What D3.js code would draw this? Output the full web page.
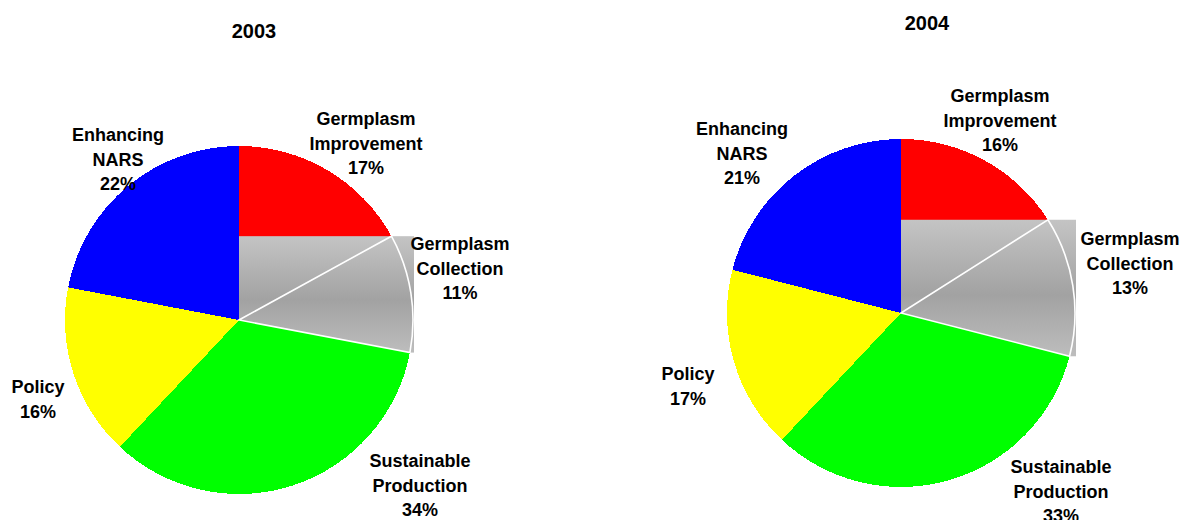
<!DOCTYPE html>
<html>
<head>
<meta charset="utf-8">
<script src="https://cdn.jsdelivr.net/npm/d3@7"></script>
<style>
  body { margin: 0; background: #fff; }
  text { font-family: Arial, "Liberation Sans", sans-serif; font-weight: bold; fill: #000; }
</style>
</head>
<body>
<div id="chart"></div>
<script>
// data
var years = ["2003", "2004"];
var categories = ["Germplasm Improvement", "Germplasm Collection", "Sustainable Production", "Policy", "Enhancing NARS"];
var labelLines = [["Germplasm", "Improvement"], ["Germplasm", "Collection"], ["Sustainable", "Production"], ["Policy"], ["Enhancing", "NARS"]];
var values2003 = [17, 11, 34, 16, 22];
var values2004 = [16, 13, 33, 17, 21];
var colors = ["#ff0000", "gradient", "#00ff00", "#ffff00", "#0000ff"];

// setup dimensions
var width = 1183,
    height = 520,
    radius = 174,
    lineGap = 24.5;

// layout for each pie (centre, title, label anchors)
var pies = [
  { year: years[0], values: values2003, cx: 239, cy: 320, title: [254, 38],
    labels: [[366, 125], [460, 250], [420, 467], [38, 393], [118, 141]] },
  { year: years[1], values: values2004, cx: 901, cy: 313, title: [927, 30],
    labels: [[1000, 102], [1130, 245], [1061, 473], [688, 380], [742, 135]] }
];

// add svg
var svg = d3.select("#chart").append("svg")
  .attr("width", width)
  .attr("height", height);

// gray gradient used by the collection slice
var grad = svg.append("defs").append("linearGradient")
  .attr("id", "grayGrad")
  .attr("x1", 0).attr("y1", 0).attr("x2", 0).attr("y2", 1);
grad.append("stop").attr("offset", "0%").attr("stop-color", "#c4c4c4");
grad.append("stop").attr("offset", "55%").attr("stop-color", "#a2a2a2");
grad.append("stop").attr("offset", "100%").attr("stop-color", "#bdbdbd");

var pie = d3.pie().sort(null).value(function(d) { return d; });
var arc = d3.arc().innerRadius(0).outerRadius(radius);

pies.forEach(function(p) {
  var g = svg.append("g")
    .attr("transform", "translate(" + p.cx + "," + p.cy + ")");

  var arcs = pie(p.values);

  arcs.forEach(function(a, i) {
    if (colors[i] === "gradient") {
      // fill the slice's bounding box with the gradient
      var tmp = g.append("path").attr("d", arc(a)).attr("fill", "none");
      var bb = tmp.node().getBBox();
      tmp.remove();
      g.append("rect")
        .attr("x", bb.x)
        .attr("y", bb.y)
        .attr("width", bb.width + 1)
        .attr("height", bb.height)
        .attr("fill", "url(#grayGrad)");
    } else {
      g.append("path")
        .attr("d", arc(a))
        .attr("fill", colors[i])
        .attr("shape-rendering", "crispEdges");
    }
  });

  // white outline of the gray slice
  arcs.forEach(function(a, i) {
    if (colors[i] === "gradient") {
      g.append("path")
        .attr("d", arc(a))
        .attr("fill", "none")
        .attr("stroke", "#fff")
        .attr("stroke-width", 1.6);
    }
  });

  // title
  svg.append("text")
    .attr("x", p.title[0])
    .attr("y", p.title[1])
    .attr("text-anchor", "middle")
    .style("font-size", "20px")
    .text(p.year);

  // labels
  arcs.forEach(function(a, i) {
    var lines = labelLines[i].concat([Math.round(a.data) + "%"]);
    var t = svg.append("text")
      .attr("text-anchor", "middle")
      .style("font-size", "18px");
    lines.forEach(function(s, k) {
      t.append("tspan")
        .attr("x", p.labels[i][0])
        .attr("y", p.labels[i][1] + k * lineGap)
        .text(s);
    });
  });
});
</script>
</body>
</html>
